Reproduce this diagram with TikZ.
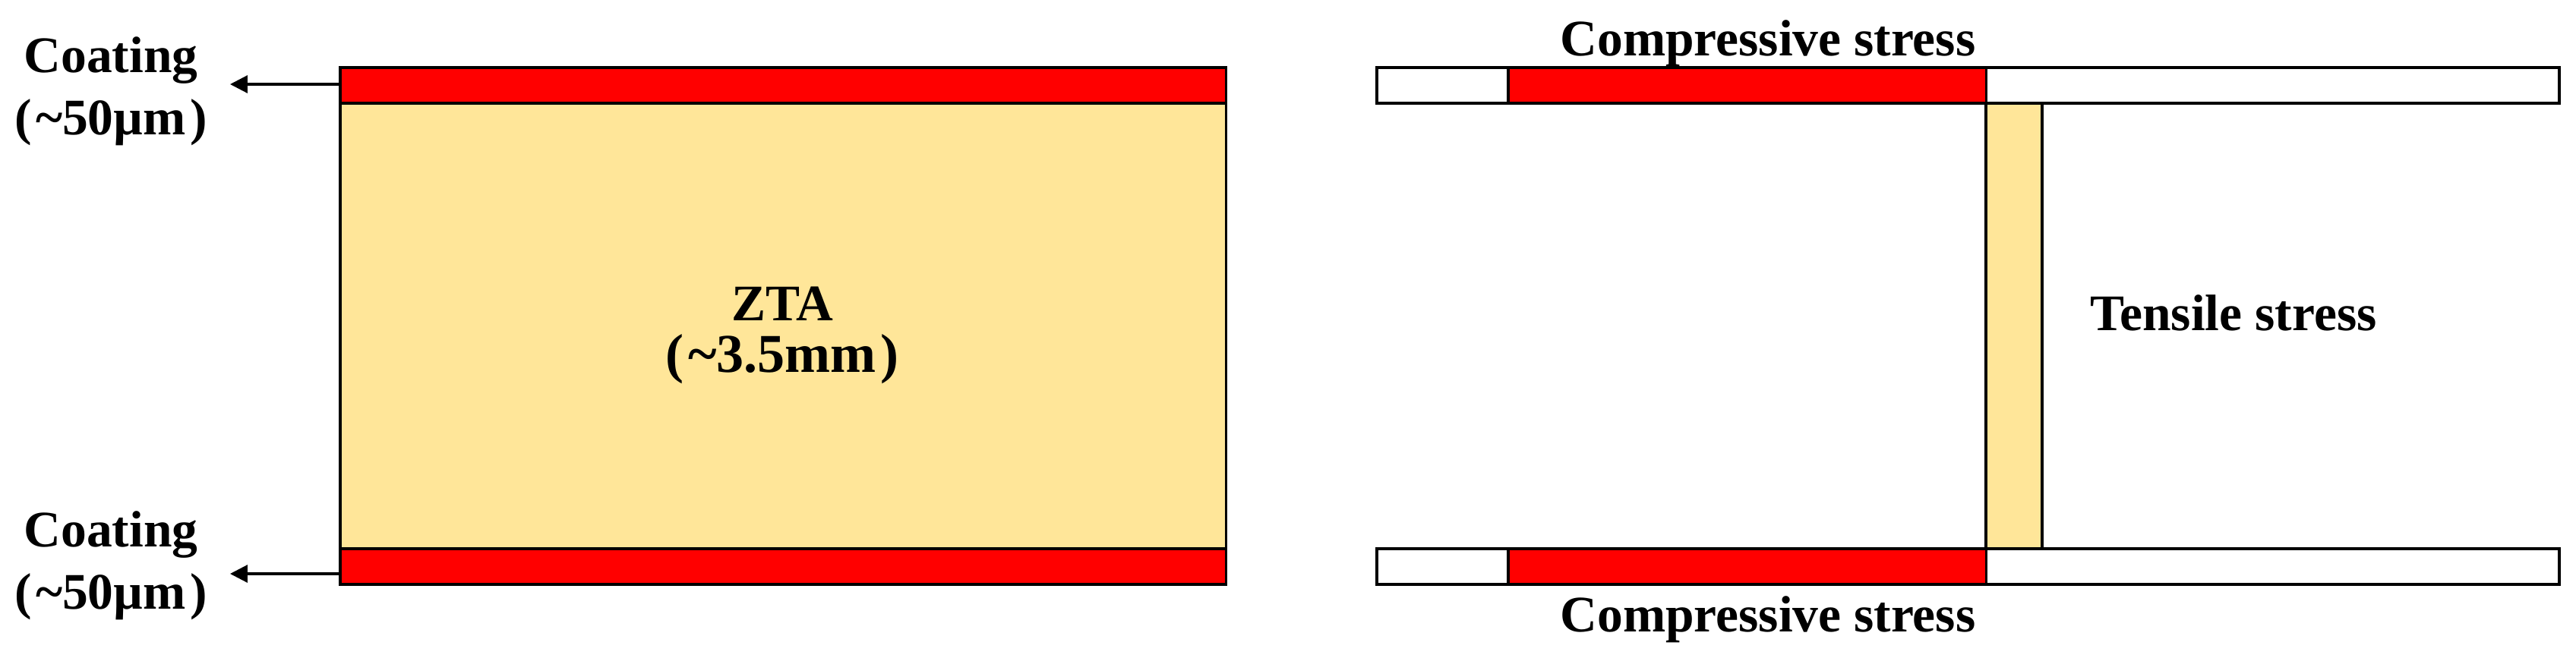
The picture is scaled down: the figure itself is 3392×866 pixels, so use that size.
\documentclass[tikz,border=0pt]{standalone}
\usepackage{fontspec}
\setmainfont{Liberation Serif}
\usetikzlibrary{arrows.meta}
\definecolor{ztayellow}{HTML}{FFE699}
\definecolor{coatred}{HTML}{FF0000}
\tikzset{
  layer/.style={draw=black, line width=0.9pt, inner sep=0pt, outer sep=0pt, anchor=north west},
  lbl/.style={font=\fontsize{19.2}{22}\selectfont\bfseries, inner sep=0pt, anchor=base},
  arr/.style={line width=0.9pt, -{Triangle[length=6.5pt,width=6.5pt]}}
}
\begin{document}
\begin{tikzpicture}[x=0.01cm, y=-0.01cm]
\useasboundingbox (0,0) rectangle (3392,866);
% left specimen
\node[layer, fill=coatred, minimum width=11.66cm, minimum height=0.47cm] (topL) at (448,89) {};
\node[layer, fill=ztayellow, minimum width=11.66cm, minimum height=5.87cm] (zta) at (448,136) {};
\node[layer, fill=coatred, minimum width=11.66cm, minimum height=0.47cm] (botL) at (448,723) {};
% labels left
\node[lbl] (c1a) at (146,95) {Coating};
\node[lbl] (c1b) at (146,177) {(\hspace{0.08em}\textasciitilde50µm\hspace{0.08em})};
\node[lbl] (c2a) at (146,720) {Coating};
\node[lbl] (c2b) at (146,802) {(\hspace{0.08em}\textasciitilde50µm\hspace{0.08em})};
\node[lbl] (ztaA) at (1030,422) {ZTA};
\node[lbl] (ztaB) at (1030,490) {\fontsize{20.5}{22}\selectfont(\hspace{0.08em}\textasciitilde3.5mm\hspace{0.08em})};
% arrows
\coordinate (tipT) at (303,111);
\coordinate (tipB) at (303,756);
\draw[arr] (topL.west |- tipT) -- (tipT);
\draw[arr] (botL.west |- tipB) -- (tipB);
% right specimen
\node[layer, fill=white, minimum width=15.56cm, minimum height=0.47cm] (topR) at (1813,89) {};
\node[layer, fill=coatred, minimum width=6.29cm, minimum height=0.47cm] (topRed) at (1986,89) {};
\node[layer, fill=ztayellow, minimum width=0.74cm, minimum height=5.87cm] (tens) at (2615,136) {};
\node[layer, fill=white, minimum width=15.56cm, minimum height=0.47cm] (botR) at (1813,723) {};
\node[layer, fill=coatred, minimum width=6.29cm, minimum height=0.47cm] (botRed) at (1986,723) {};
\node[lbl] (compT) at (2328,73) {Compressive stress};
\node[lbl] (compB) at (2328,832) {Compressive stress};
\node[lbl] (tensL) at (2941,435) {Tensile stress};
\end{tikzpicture}
\end{document}
